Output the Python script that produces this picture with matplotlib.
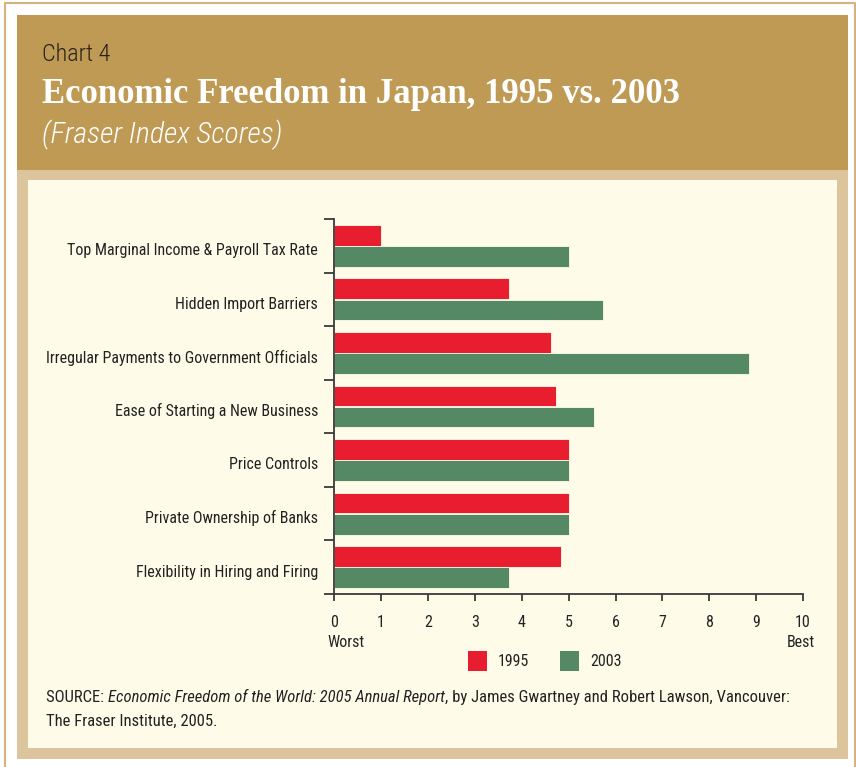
import matplotlib
matplotlib.use("Agg")
import matplotlib.pyplot as plt
from matplotlib.patches import Rectangle
from matplotlib.lines import Line2D
import numpy as np

categories = [
    "Top Marginal Income & Payroll Tax Rate",
    "Hidden Import Barriers",
    "Irregular Payments to Government Officials",
    "Ease of Starting a New Business",
    "Price Controls",
    "Private Ownership of Banks",
    "Flexibility in Hiring and Firing",
]
scores_1995 = [1.0, 3.72, 4.62, 4.72, 5.0, 5.0, 4.83]
scores_2003 = [5.0, 5.73, 8.84, 5.54, 5.0, 5.0, 3.72]
series_labels = ["1995", "2003"]
x_ticks = list(range(0, 11))

RED = "#E81E30"
GREEN = "#558864"
GOLD = "#BF9A55"
TAN = "#DCC59C"
CREAM = "#FEFCE8"
NARROW = ["Roboto Condensed", "DejaVu Sans"]
TXT = "#222222"

W, H = 856, 767
fig = plt.figure(figsize=(W / 100, H / 100), dpi=100)
fig.patch.set_facecolor("white")


def px_rect(x0, y0, x1, y1, **kw):
    fig.patches.append(Rectangle((x0 / W, 1 - y1 / H), (x1 - x0) / W, (y1 - y0) / H,
                                 transform=fig.transFigure, figure=fig, zorder=-5, **kw))


def px_line(xs, ys, **kw):
    fig.lines.append(Line2D([x / W for x in xs], [1 - y / H for y in ys],
                            transform=fig.transFigure, figure=fig, zorder=-4, **kw))


def ftext(x, y, s, **kw):
    return fig.text(x / W, 1 - y / H, s, **kw)


# frames
px_line([5, 5, 855, 855], [767, 3, 3, 767], color="#D5B27E", linewidth=1.5)
px_rect(17, 15, 848, 170, facecolor=GOLD, edgecolor="none")
px_rect(17, 170, 848, 759, facecolor=TAN, edgecolor="none")
px_rect(28, 180, 837, 748, facecolor=CREAM, edgecolor="none")

# header text
ftext(42, 61, "Chart 4", fontsize=17.5, color="#2A2218", family=NARROW, fontweight="light",
      va="baseline")
ftext(42, 103, "Economic Freedom in Japan, 1995 vs. 2003", fontsize=25, color="white",
      family=["Liberation Serif", "DejaVu Serif"], fontweight="bold", va="baseline")
ftext(42, 143, "(Fraser Index Scores)", fontsize=21.5, color="white", family=NARROW,
      fontweight="light", style="italic", va="baseline")

# axes
ax_left, ax_right = 334.3, 803
ax_top, ax_bottom = 219, 594
ax = fig.add_axes([ax_left / W, 1 - ax_bottom / H, (ax_right - ax_left) / W, (ax_bottom - ax_top) / H])
ax.set_facecolor("none")
n = len(categories)
centers = np.arange(n)[::-1] + 0.5
bh = 0.385
ax.barh(centers + bh / 2 + 0.005, scores_1995, height=bh, color=RED, edgecolor=CREAM, linewidth=0.6)
ax.barh(centers - bh / 2 - 0.005, scores_2003, height=bh, color=GREEN, edgecolor=CREAM, linewidth=0.6)
ax.set_xlim(0, 10)
ax.set_ylim(0, n)
for s in ["top", "right"]:
    ax.spines[s].set_visible(False)
for s in ["left", "bottom"]:
    ax.spines[s].set_color("#3A3A3A")
    ax.spines[s].set_linewidth(1.3)
ax.set_xticks(x_ticks)
ax.set_xticklabels([str(t) for t in x_ticks], family=NARROW, fontsize=11.5, color=TXT)
ax.set_yticks(np.arange(n + 1))
ax.set_yticklabels([])
ax.tick_params(axis="y", length=7, width=1.3, color="#3A3A3A", direction="out")
ax.tick_params(axis="x", length=5, width=1.3, color="#3A3A3A", direction="out", pad=10)
for c, lab in zip(centers, categories):
    ax.text(-0.35, c - 0.09, lab, ha="right", va="center", family=NARROW, fontsize=11.5,
            color=TXT, transform=ax.transData)

ftext(327, 647, "Worst", family=NARROW, fontsize=11.5, color=TXT, va="baseline")
ftext(815, 647, "Best", family=NARROW, fontsize=11.5, color=TXT, va="baseline", ha="right")

# legend
px_rect(468, 651, 487, 671, facecolor=RED, edgecolor="none")
px_rect(560, 651, 579, 671, facecolor=GREEN, edgecolor="none")
ftext(498, 662, series_labels[0], family=NARROW, fontsize=11.5, color=TXT, va="center")
ftext(590, 662, series_labels[1], family=NARROW, fontsize=11.5, color=TXT, va="center")

# source
fig.canvas.draw()
r = fig.canvas.get_renderer()
fs = 12
t1 = ftext(46, 702, "SOURCE: ", family=NARROW, fontsize=fs, color=TXT, va="baseline")
x = 46 + t1.get_window_extent(r).width
t2 = ftext(x, 702, "Economic Freedom of the World: 2005 Annual Report", family=NARROW, style="italic",
           fontsize=fs, color=TXT, va="baseline")
x += t2.get_window_extent(r).width
ftext(x, 702, ", by James Gwartney and Robert Lawson, Vancouver:", family=NARROW, fontsize=fs,
      color=TXT, va="baseline")
ftext(46, 726, "The Fraser Institute, 2005.", family=NARROW, fontsize=fs, color=TXT, va="baseline")

fig.savefig("out.png", dpi=100, facecolor="white")
